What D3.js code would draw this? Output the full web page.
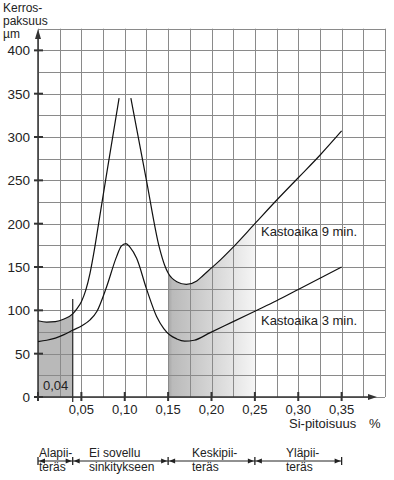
<!DOCTYPE html>
<html>
<head>
<meta charset="utf-8">
<script src="https://cdn.jsdelivr.net/npm/d3@7"></script>
<style>
  body { margin: 0; background: #fff; }
  svg { display: block; font-family: "Liberation Sans", Arial, sans-serif; }
</style>
</head>
<body>
<svg id="chart"></svg>
<script>
// Si content (%) vs coating thickness (µm)
const yTicks = [0, 50, 100, 150, 200, 250, 300, 350, 400];
const xTicks = [0.05, 0.10, 0.15, 0.20, 0.25, 0.30, 0.35];
const xTickLabels = ["0,05", "0,10", "0,15", "0,20", "0,25", "0,30", "0,35"];

// Kastoaika 9 min (peak is broken in two pieces)
const nineMinLeft = [
  [0, 88], [0.01, 86.5], [0.02, 87], [0.03, 90], [0.04, 96], [0.045, 102],
  [0.05, 110], [0.055, 123], [0.06, 143], [0.065, 170], [0.07, 201],
  [0.08, 263], [0.0935, 345]
];
const nineMinRight = [
  [0.107, 345], [0.125, 250], [0.14, 172], [0.146, 152], [0.15, 143],
  [0.16, 133], [0.171, 130], [0.183, 134], [0.19, 140], [0.20, 149],
  [0.21, 158], [0.225, 173], [0.25, 200], [0.275, 227], [0.30, 253],
  [0.325, 279], [0.35, 307]
];
// Kastoaika 3 min
const threeMin = [
  [0, 64], [0.01, 65.5], [0.02, 68], [0.03, 72], [0.04, 77], [0.052, 83],
  [0.06, 89], [0.068, 99], [0.079, 127], [0.0906, 162], [0.096, 174],
  [0.1014, 177], [0.106, 173], [0.1137, 160], [0.125, 125], [0.1367, 93],
  [0.145, 79], [0.152, 71.5], [0.16, 67], [0.169, 64.5], [0.18, 65.5],
  [0.198, 74], [0.225, 87], [0.25, 99], [0.275, 111], [0.30, 124],
  [0.325, 137], [0.35, 150]
];

// steel classes along the Si axis
const classBounds = [0, 0.04, 0.15, 0.25, 0.35];
const classLabels = [
  ["Alapii-", "teräs"],
  ["Ei sovellu", "sinkitykseen"],
  ["Keskipii-", "teräs"],
  ["Yläpii-", "teräs"]
];
const lowLimit = 0.04;

const W = 394, H = 480;
const svg = d3.select("#chart").attr("width", W).attr("height", H);

const x = d3.scaleLinear().domain([0, 0.4]).range([38, 385]);
const y = d3.scaleLinear().domain([0, 425]).range([397, 28.7]);

const defs = svg.append("defs");
const grad = defs.append("linearGradient").attr("id", "fade")
  .attr("gradientUnits", "userSpaceOnUse")
  .attr("x1", x(0.15)).attr("x2", x(0.25)).attr("y1", 0).attr("y2", 0);
grad.append("stop").attr("offset", 0).attr("stop-color", "#a4a4a4");
grad.append("stop").attr("offset", 0.05).attr("stop-color", "#bababa");
grad.append("stop").attr("offset", 0.55).attr("stop-color", "#d8d8d8");
grad.append("stop").attr("offset", 1).attr("stop-color", "#f5f5f5");

defs.append("clipPath").attr("id", "clipLow").append("rect")
  .attr("x", x(0)).attr("y", 0).attr("width", x(lowLimit) - x(0)).attr("height", H);
defs.append("clipPath").attr("id", "clipMid").append("rect")
  .attr("x", x(0.15)).attr("y", 0).attr("width", x(0.25) - x(0.15)).attr("height", H);

const area = d3.area().x(d => x(d[0])).y0(y(0)).y1(d => y(d[1])).curve(d3.curveMonotoneX);
const line = d3.line().x(d => x(d[0])).y(d => y(d[1])).curve(d3.curveMonotoneX);

// shaded zones
svg.append("path").attr("d", area(nineMinLeft))
  .attr("fill", "#b9b9b9").attr("clip-path", "url(#clipLow)");
svg.append("path").attr("d", area(nineMinRight))
  .attr("fill", "url(#fade)").attr("clip-path", "url(#clipMid)");

// grid
const grid = svg.append("g").attr("stroke", "#8a8a8a").attr("stroke-width", 1);
grid.selectAll("line.v").data(d3.range(0, 0.4001, 0.025)).enter().append("line")
  .attr("x1", d => Math.round(x(d)) + 0.5).attr("x2", d => Math.round(x(d)) + 0.5)
  .attr("y1", y(0)).attr("y2", y(425));
grid.selectAll("line.h").data(d3.range(0, 426, 25)).enter().append("line")
  .attr("y1", d => Math.round(y(d)) + 0.5).attr("y2", d => Math.round(y(d)) + 0.5)
  .attr("x1", x(0)).attr("x2", x(0.4));

// axes
const ax = svg.append("g").attr("stroke", "#333").attr("fill", "#333");
ax.append("line").attr("x1", x(0)).attr("x2", 370).attr("y1", y(0)).attr("y2", y(0)).attr("stroke-width", 1.5);
ax.append("path").attr("d", `M377,${y(0)} L368,${y(0) - 3} L368,${y(0) + 3} Z`).attr("stroke", "none");
ax.append("line").attr("x1", x(0)).attr("x2", x(0)).attr("y1", y(0) + 4).attr("y2", 36).attr("stroke-width", 1.5);
ax.append("path").attr("d", `M${x(0)},29 L${x(0) - 3},39 L${x(0) + 3},39 Z`).attr("stroke", "none");

// y ticks + labels
ax.selectAll("line.yt").data(yTicks).enter().append("line")
  .attr("x1", 34).attr("x2", 43).attr("y1", d => y(d)).attr("y2", d => y(d)).attr("stroke-width", 2);
svg.selectAll("text.yl").data(yTicks).enter().append("text")
  .attr("x", 30).attr("y", d => y(d) + 5).attr("text-anchor", "end")
  .attr("font-size", 13.5).attr("fill", "#222").text(d => d);

// x ticks + labels
ax.selectAll("line.xt").data([0].concat(xTicks)).enter().append("line")
  .attr("x1", d => x(d)).attr("x2", d => x(d)).attr("y1", y(0) - 5).attr("y2", y(0) + 4).attr("stroke-width", 2);
svg.selectAll("text.xl").data(xTicks).enter().append("text")
  .attr("x", (d, i) => x(d)).attr("y", 414).attr("text-anchor", "middle")
  .attr("font-size", 13).attr("fill", "#222").text((d, i) => xTickLabels[i]);

// 0,04 limit
svg.append("line").attr("x1", x(lowLimit)).attr("x2", x(lowLimit))
  .attr("y1", y(0) + 5).attr("y2", y(113)).attr("stroke", "#333").attr("stroke-width", 1.3);
svg.append("text").attr("x", 43).attr("y", 390).attr("font-size", 13).attr("fill", "#222").text("0,04");

// curves
[nineMinLeft, nineMinRight, threeMin].forEach(s => {
  svg.append("path").attr("d", line(s)).attr("fill", "none")
    .attr("stroke", "#111").attr("stroke-width", 1.2);
});
svg.append("text").attr("x", 261).attr("y", 236).attr("font-size", 13).attr("fill", "#222").text("Kastoaika 9 min.");
svg.append("text").attr("x", 261).attr("y", 325).attr("font-size", 13).attr("fill", "#222").text("Kastoaika 3 min.");

// axis titles
const yt = svg.append("text").attr("font-size", 12).attr("fill", "#222");
["Kerros-", "paksuus", "µm"].forEach((t, i) => {
  yt.append("tspan").attr("x", 3).attr("y", 12 + i * 13).text(t);
});
svg.append("text").attr("x", 289).attr("y", 428).attr("font-size", 13).attr("fill", "#222").text("Si-pitoisuus");
svg.append("text").attr("x", 369).attr("y", 428).attr("font-size", 13).attr("fill", "#222").text("%");

// steel class annotations
const by = 461;
const cl = svg.append("g").attr("stroke", "#222").attr("fill", "#222");
cl.append("line").attr("x1", x(classBounds[0])).attr("x2", x(classBounds[classBounds.length - 1]))
  .attr("y1", by).attr("y2", by).attr("stroke-width", 1);
cl.selectAll("line.b").data(classBounds).enter().append("line")
  .attr("x1", d => x(d)).attr("x2", d => x(d)).attr("y1", by - 4).attr("y2", by + 4).attr("stroke-width", 1.3);
classBounds.forEach((b, i) => {
  const px = x(b);
  if (i > 0) cl.append("path").attr("stroke", "none")
    .attr("d", `M${px - 1},${by} L${px - 7},${by - 2.5} L${px - 7},${by + 2.5} Z`);
  if (i < classBounds.length - 1) cl.append("path").attr("stroke", "none")
    .attr("d", `M${px + 1},${by} L${px + 7},${by - 2.5} L${px + 7},${by + 2.5} Z`);
});
const labelX = [39, 89, 192, 286];
classLabels.forEach((lines, i) => {
  const t = svg.append("text").attr("font-size", 12).attr("fill", "#222");
  lines.forEach((s, j) => t.append("tspan").attr("x", labelX[i]).attr("y", 457 + j * 14).text(s));
});
</script>
</body>
</html>
